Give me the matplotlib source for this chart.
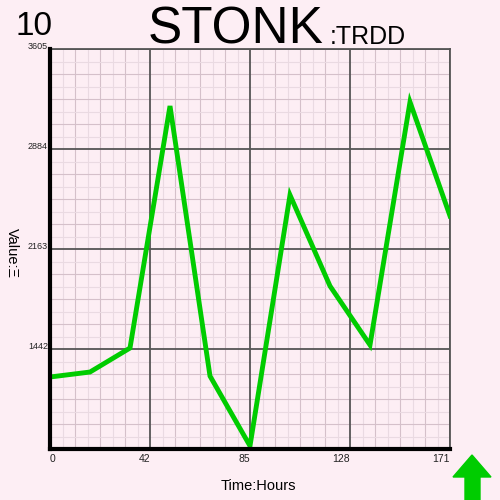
import numpy as np
import matplotlib.pyplot as plt
from matplotlib.patches import Polygon
from matplotlib.transforms import blended_transform_factory

plt.rcParams['font.family'] = ['Liberation Sans', 'DejaVu Sans']

# data
hours = [0, 17.1, 34.2, 51.3, 68.4, 85.5, 102.6, 119.7, 136.8, 153.9, 171]
values = [1240, 1276, 1449, 3194, 1247, 743, 2552, 1896, 1471, 3223, 2401]
x_ticks = [0, 42.75, 85.5, 128.25, 171]
x_labels = ["0", "42", "85", "128", "171"]
y_ticks = [721, 1442, 2163, 2884, 3605]
y_labels = ["", "1442", "2163", "2884", "3605"]

bg = "#fdeef4"
green = "#00cc00"

fig = plt.figure(figsize=(5, 5), dpi=100, facecolor=bg)
ax = fig.add_axes([0.1, 0.102, 0.8, 0.8], facecolor=bg)

ax.set_xlim(0, 171)
ax.set_ylim(721, 3605)

# grid: fine, medium, major
xs = np.linspace(0, 171, 33)
ys = np.linspace(721, 3605, 33)
for i, x in enumerate(xs):
    if i % 8 == 0:
        ax.axvline(x, color="#555555", lw=1.3, zorder=2)
    elif i % 2 == 0:
        ax.axvline(x, color="#d5c0ca", lw=0.8, zorder=1)
    else:
        ax.axvline(x, color="#eadae2", lw=0.8, zorder=1)
for i, y in enumerate(ys):
    if i % 8 == 0:
        ax.axhline(y, color="#555555", lw=1.3, zorder=2)
    elif i % 2 == 0:
        ax.axhline(y, color="#d5c0ca", lw=0.8, zorder=1)
    else:
        ax.axhline(y, color="#eadae2", lw=0.8, zorder=1)

ax.plot(hours, values, color=green, lw=3.5, zorder=3, solid_joinstyle="miter")

for s in ["top", "right"]:
    ax.spines[s].set_color("#555555")
    ax.spines[s].set_linewidth(1.3)
for s in ["left", "bottom"]:
    ax.spines[s].set_color("black")
    ax.spines[s].set_linewidth(3)
    ax.spines[s].set_zorder(4)

ax.set_xticks([])
ax.set_yticks([])

# tick labels
tx = blended_transform_factory(ax.transData, ax.transAxes)
for x, lab in zip(x_ticks, x_labels):
    ha = "left" if x == 0 else "right"
    ax.text(x, -0.012, lab, transform=tx, ha=ha, va="top", fontsize=7.5, color="#222222")
ty = blended_transform_factory(ax.transAxes, ax.transData)
for y, lab in zip(y_ticks, y_labels):
    ax.text(-0.005, y + 20, lab, transform=ty, ha="right", va="center", fontsize=6.5, color="#222222")

fig.text(0.516, 0.028, "Time:Hours", ha="center", va="center", fontsize=10.5)
fig.text(0.024, 0.494, "Value:\u039e", ha="center", va="center", fontsize=10.5, rotation=270)

fig.text(0.03, 0.93, "10", ha="left", va="baseline", fontsize=24)
fig.text(0.472, 0.912, "STONK", ha="center", va="baseline", fontsize=37)
fig.text(0.66, 0.912, ":TRDD", ha="left", va="baseline", fontsize=18)

# up arrow in the corner
arrow = Polygon([[0.944, 0.09], [0.906, 0.046], [0.93, 0.046], [0.93, 0.0],
                 [0.96, 0.0], [0.96, 0.046], [0.982, 0.046]],
                closed=True, color=green, transform=fig.transFigure)
fig.patches.append(arrow)

fig.savefig("out.png", dpi=100, facecolor=bg)
